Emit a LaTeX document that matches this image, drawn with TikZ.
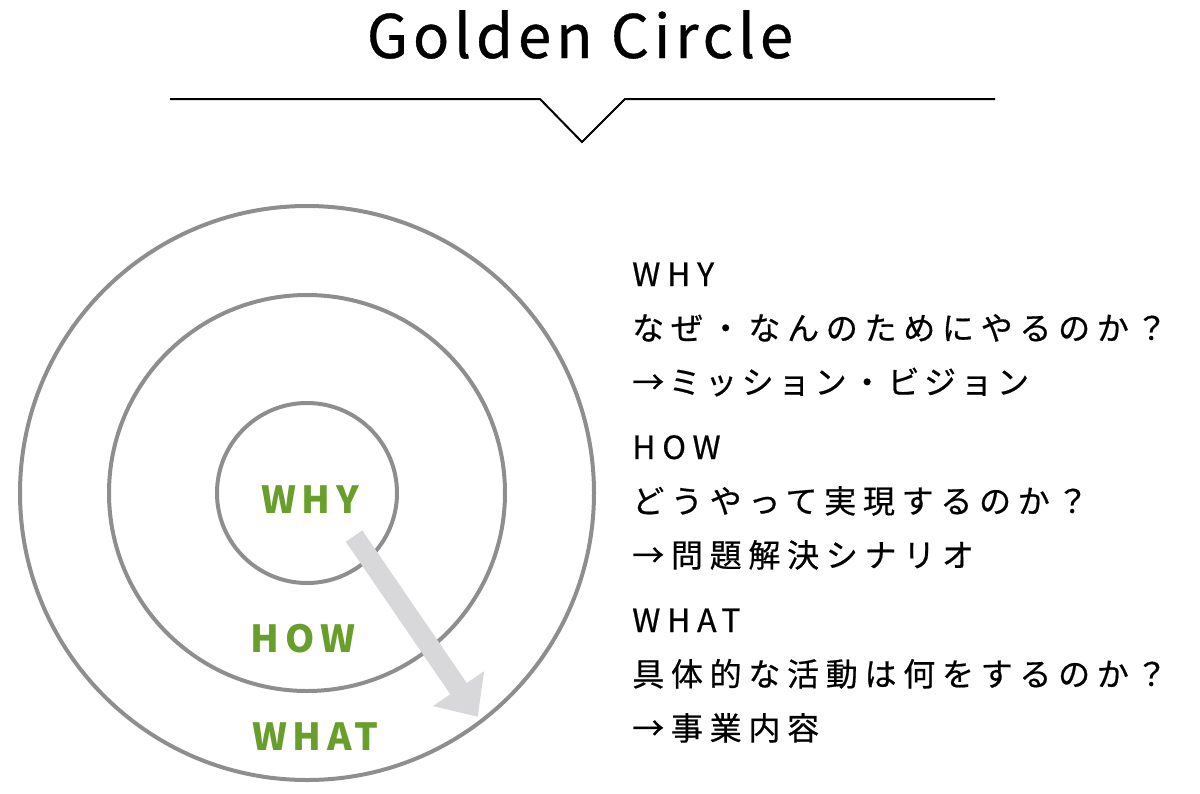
\documentclass[tikz,border=0pt]{standalone}
\usepackage{fontspec}
\newfontfamily\jpR[LetterSpace=21,FakeBold=0.6]{Noto Sans CJK JP}
\newfontfamily\jpK[LetterSpace=14,FakeBold=0.6]{Noto Sans CJK JP}
\newfontfamily\jpT[LetterSpace=8,FakeBold=0.6]{Noto Sans CJK JP}
\newfontfamily\jpG[LetterSpace=15]{Noto Sans CJK JP}
\definecolor{ringgray}{RGB}{142,142,142}
\definecolor{arrgray}{RGB}{216,216,218}
\definecolor{leafgreen}{RGB}{104,158,42}
\tikzset{
  ring/.style={circle, draw=ringgray, line width=3pt, inner sep=0pt, minimum size=#1},
  glabel/.style={anchor=base, text=leafgreen, font=\jpG\bfseries\fontsize{28}{28}\selectfont, inner sep=0pt},
  desc/.style={anchor=base west, font=\jpR\fontsize{24}{24}\selectfont, inner sep=0pt},
  desck/.style={anchor=base west, font=\jpK\fontsize{24}{24}\selectfont, inner sep=0pt},
  titletext/.style={anchor=base, font=\jpT\fontsize{45}{45}\selectfont, inner sep=0pt},
  rule/.style={line width=1.5pt, black},
}
\begin{document}
\begin{tikzpicture}[x=0.75pt,y=-0.75pt]
\useasboundingbox (0,0) rectangle (1200,793);
% title
\node[titletext] (title) at (580,58) {Golden Circle};
\coordinate (rl) at (170,99);
\coordinate (nl) at (540,99);
\coordinate (nt) at (582,142);
\coordinate (nr) at (625,99);
\coordinate (rr) at (995,99);
\draw[rule] (rl) -- (nl) -- (nt) -- (nr) -- (rr);
% circles
\node[ring=574*0.75pt] (outer) at (307,493) {};
\node[ring=396*0.75pt] (middle) at (307,493) {};
\node[ring=180*0.75pt] (inner) at (307,493) {};
% arrow
\coordinate (arrS) at (354,536);
\coordinate (arrT) at (477.7,716.7);
\fill[arrgray] (362.3,530.4) -- (466.8,683.0) -- (484.1,671.1) -- (arrT)
  -- (432.9,706.1) -- (450.3,694.3) -- (345.8,541.7) -- cycle;
% green labels
\node[glabel] (why) at (310,513) {WHY};
\node[glabel] (how) at (303,652) {HOW};
\node[glabel] (what) at (315,750) {WHAT};
% right text
\node[desc] (t1) at (632,286) {WHY};
\node[desc] (t2) at (632,340) {なぜ・なんのためにやるのか？};
\node[desck] (t3) at (632,394) {→ミッション・ビジョン};
\node[desc] (t4) at (632,459) {HOW};
\node[desc] (t5) at (632,513) {どうやって実現するのか？};
\node[desc] (t6) at (632,567) {→問題解決シナリオ};
\node[desc] (t7) at (632,632) {WHAT};
\node[desc] (t8) at (632,686) {具体的な活動は何をするのか？};
\node[desc] (t9) at (632,740) {→事業内容};
\end{tikzpicture}
\end{document}
